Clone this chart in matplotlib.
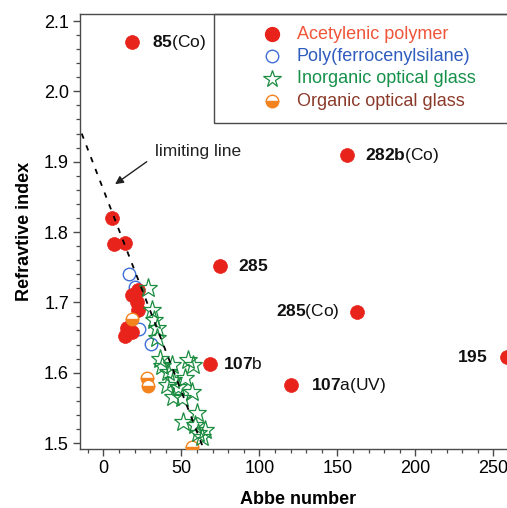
import matplotlib
matplotlib.use("Agg")
import matplotlib.pyplot as plt
from matplotlib.patches import Rectangle
from matplotlib.ticker import MultipleLocator, FormatStrFormatter

plt.rcParams['font.family'] = ['Liberation Sans', 'DejaVu Sans']
plt.rcParams['mathtext.fontset'] = 'custom'
plt.rcParams['mathtext.rm'] = 'Liberation Sans'
plt.rcParams['mathtext.bf'] = 'Liberation Sans:bold'

# Acetylenic polymers (Abbe number, refractive index)
acet_abbe = [18.2, 156.0, 74.8, 162.4, 68.4, 120.1, 258.6,
             5.4, 6.6, 14.0, 18.2, 22.4, 21.4, 22.4, 15.0, 13.9, 18.2]
acet_n = [2.070, 1.909, 1.752, 1.687, 1.613, 1.582, 1.623,
          1.820, 1.783, 1.784, 1.710, 1.717, 1.701, 1.689, 1.663, 1.652, 1.658]

# Poly(ferrocenylsilane)s
pfs_abbe = [16.7, 20.3, 23.1, 30.4]
pfs_n = [1.740, 1.722, 1.662, 1.641]

# Inorganic optical glasses
inorg_abbe = [28.8, 31.0, 32.5, 34.2, 34.6, 36.3, 37.4, 43.8, 41.7, 54.5, 57.7,
              44.9, 52.4, 40.6, 48.1, 56.7, 44.9, 50.3, 59.9, 51.3, 58.8, 65.2,
              60.9, 63.1]
inorg_n = [1.721, 1.689, 1.675, 1.663, 1.650, 1.620, 1.609, 1.611, 1.601, 1.618,
           1.611, 1.590, 1.592, 1.582, 1.580, 1.573, 1.566, 1.564, 1.542, 1.530,
           1.526, 1.518, 1.514, 1.509]

# Organic optical glasses
org_abbe = [18.2, 27.8, 28.5, 57.0]
org_n = [1.677, 1.592, 1.581, 1.494]

# Limiting line end points
limit_abbe = [-13.9, 64.1]
limit_n = [1.940, 1.4925]

# Point labels: (bold part, regular part, abbe, n, x offset px, alignment)
labels = [
    ("85", "(Co)", 18.2, 2.070, 20, 'left'),
    ("282b", "(Co)", 156.0, 1.909, 18, 'left'),
    ("285", "", 74.8, 1.752, 18, 'left'),
    ("285", "(Co)", 162.4, 1.687, -17, 'right'),
    ("107", "b", 68.4, 1.613, 13, 'left'),
    ("107", "a(UV)", 120.1, 1.582, 20, 'left'),
    ("195", "", 258.6, 1.623, -19, 'right'),
]

RED = '#e8231b'
BLUE = '#3d6fd6'
GREEN = '#1c8c40'
ORANGE = '#f2831f'
AX_COL = '#4a4a4a'

fig = plt.figure(figsize=(5.07, 5.08), dpi=100)
ax = fig.add_axes([80 / 507, 59 / 508, 436.7 / 507, 435 / 508])

ax.plot(pfs_abbe, pfs_n, 'o', ms=9, mfc='none', mec=BLUE, mew=1.0, zorder=3)
ax.plot(acet_abbe, acet_n, 'o', ms=10, mfc=RED, mec=RED, mew=0.5, zorder=4)
ax.plot(org_abbe, org_n, 'o', ms=9, fillstyle='bottom', mfc=ORANGE,
        mfcalt='white', mec=ORANGE, mew=1.0, zorder=5)
ax.plot(inorg_abbe, inorg_n, '*', ms=14, mfc='none', mec=GREEN, mew=0.9, zorder=6)
ax.plot(limit_abbe, limit_n, ls=(0, (3, 4)), color='black', lw=1.3, zorder=7)

for bold, reg, xa, yn, dx, ha in labels:
    s = r"$\bf{" + bold + "}$" + reg
    ax.annotate(s, xy=(xa, yn), xytext=(dx, 0), textcoords='offset pixels',
                ha=ha, va='center', fontsize=12.5, color='#111111', zorder=8)

ax.text(33.1, 1.914, "limiting line", fontsize=12.5, ha='left', va='center',
        color='#222222')
ax.annotate('', xy=(7.5, 1.868), xytext=(27.8, 1.900),
            arrowprops=dict(arrowstyle='-|>', color='#222222', lw=1.0,
                            mutation_scale=12, shrinkA=0, shrinkB=0))

ax.set_xlim(-15, 265)
ax.set_ylim(1.4915, 2.11)
ax.xaxis.set_major_locator(MultipleLocator(50))
ax.xaxis.set_minor_locator(MultipleLocator(10))
ax.yaxis.set_major_locator(MultipleLocator(0.1))
ax.yaxis.set_minor_locator(MultipleLocator(0.02))
ax.yaxis.set_major_formatter(FormatStrFormatter('%.1f'))
ax.tick_params(which='both', direction='out', color=AX_COL, labelsize=13,
               top=False, right=False)
ax.tick_params(which='major', length=5, width=1.0, pad=3)
ax.tick_params(which='minor', length=3, width=0.9)
for sp in ax.spines.values():
    sp.set_color(AX_COL)
    sp.set_linewidth(1.0)

ax.set_xlabel("Abbe number", fontsize=13, fontweight='bold', labelpad=10)
ax.set_ylabel("Refravtive index", fontsize=13, fontweight='bold', labelpad=8)

# Legend box drawn by hand
ax.add_patch(Rectangle((0.3068, 0.7494), 1.0, 0.2506, transform=ax.transAxes,
                       fill=False, ec=AX_COL, lw=1.0, clip_on=False, zorder=9))
leg_y = [0.954, 0.9034, 0.8506, 0.800]
leg_text = ["Acetylenic polymer", "Poly(ferrocenylsilane)",
            "Inorganic optical glass", "Organic optical glass"]
leg_col = ['#f0553a', '#2f5cbf', '#16914a', '#8b3a2a']
mx, tx = 0.4397, 0.4969
ax.plot([mx], [leg_y[0]], 'o', ms=10, mfc=RED, mec=RED, transform=ax.transAxes,
        clip_on=False, zorder=10)
ax.plot([mx], [leg_y[1]], 'o', ms=9, mfc='none', mec=BLUE, mew=1.0,
        transform=ax.transAxes, clip_on=False, zorder=10)
ax.plot([mx], [leg_y[2]], '*', ms=13, mfc='none', mec=GREEN, mew=0.9,
        transform=ax.transAxes, clip_on=False, zorder=10)
ax.plot([mx], [leg_y[3]], 'o', ms=9, fillstyle='bottom', mfc=ORANGE,
        mfcalt='white', mec=ORANGE, mew=1.0, transform=ax.transAxes,
        clip_on=False, zorder=10)
for y, t, c in zip(leg_y, leg_text, leg_col):
    ax.text(tx, y, t, transform=ax.transAxes, fontsize=13, color=c,
            ha='left', va='center', zorder=10)

fig.savefig("out.png", dpi=100)
